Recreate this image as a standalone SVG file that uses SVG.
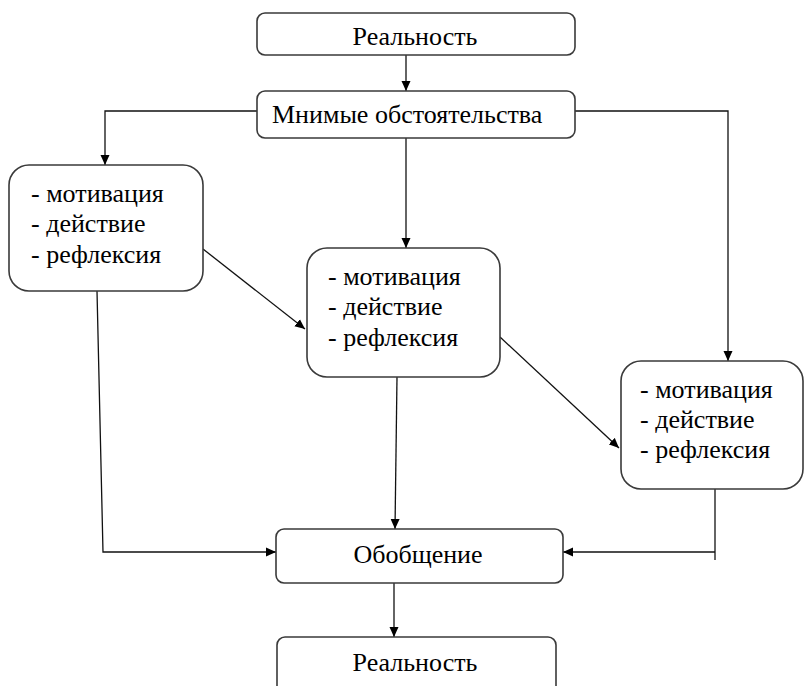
<svg xmlns="http://www.w3.org/2000/svg" width="804" height="686" viewBox="0 0 804 686">
<style>
.box{fill:#fff;stroke:#3a3a3a;stroke-width:1.6}
.t{font-family:'Liberation Serif','Times New Roman',serif;font-size:26px;fill:#000}
.c{text-anchor:middle}
.ln{fill:none;stroke:#111;stroke-width:1.3}
</style>
<defs>
<marker id="ah" viewBox="0 0 10 10" refX="10" refY="5" markerWidth="10" markerHeight="10" markerUnits="userSpaceOnUse" orient="auto">
<path d="M0,0.5 L10,5 L0,9.5 z" fill="#000"/>
</marker>
</defs>
<rect width="804" height="686" fill="#fff"/>
<g id="connectors">
<line class="ln" x1="406" y1="55" x2="406" y2="91" marker-end="url(#ah)"/>
<polyline class="ln" points="257,111 105,111 105,165" marker-end="url(#ah)"/>
<polyline class="ln" points="575,111 728,111 728,361" marker-end="url(#ah)"/>
<line class="ln" x1="406" y1="138" x2="406" y2="248" marker-end="url(#ah)"/>
<line class="ln" x1="203" y1="249" x2="305" y2="329" marker-end="url(#ah)"/>
<line class="ln" x1="500" y1="337" x2="619" y2="448" marker-end="url(#ah)"/>
<line class="ln" x1="397" y1="377" x2="395" y2="529" marker-end="url(#ah)"/>
<polyline class="ln" points="97,291 103,552 276,552" marker-end="url(#ah)"/>
<polyline class="ln" points="715,489 715,560"/>
<polyline class="ln" points="715,552 563,552" marker-end="url(#ah)"/>
<line class="ln" x1="394" y1="583" x2="394" y2="637" marker-end="url(#ah)"/>
</g>
<g id="real-top">
<rect class="box" x="257" y="13" width="318" height="42" rx="8"/>
<text class="t c" x="415" y="45">Реальность</text>
</g>
<g id="mnimye">
<rect class="box" x="257" y="91" width="318" height="47" rx="8"/>
<text class="t" x="272" y="123">Мнимые обстоятельства</text>
</g>
<g id="stage-left">
<rect class="box" x="9" y="165" width="194" height="126" rx="20"/>
<text class="t" x="31" y="202">- мотивация</text>
<text class="t" x="31" y="232">- действие</text>
<text class="t" x="31" y="263">- рефлексия</text>
</g>
<g id="stage-middle">
<rect class="box" x="307" y="248" width="193" height="129" rx="20"/>
<text class="t" x="328" y="285">- мотивация</text>
<text class="t" x="328" y="315">- действие</text>
<text class="t" x="328" y="346">- рефлексия</text>
</g>
<g id="stage-right">
<rect class="box" x="621" y="361" width="182" height="128" rx="20"/>
<text class="t" x="640" y="398">- мотивация</text>
<text class="t" x="640" y="428">- действие</text>
<text class="t" x="640" y="458">- рефлексия</text>
</g>
<g id="obobshchenie">
<rect class="box" x="276" y="529" width="287" height="54" rx="8"/>
<text class="t c" x="418" y="563">Обобщение</text>
</g>
<g id="real-bottom">
<rect class="box" x="277" y="637" width="279" height="60" rx="8"/>
<text class="t c" x="415" y="671">Реальность</text>
</g>
</svg>
